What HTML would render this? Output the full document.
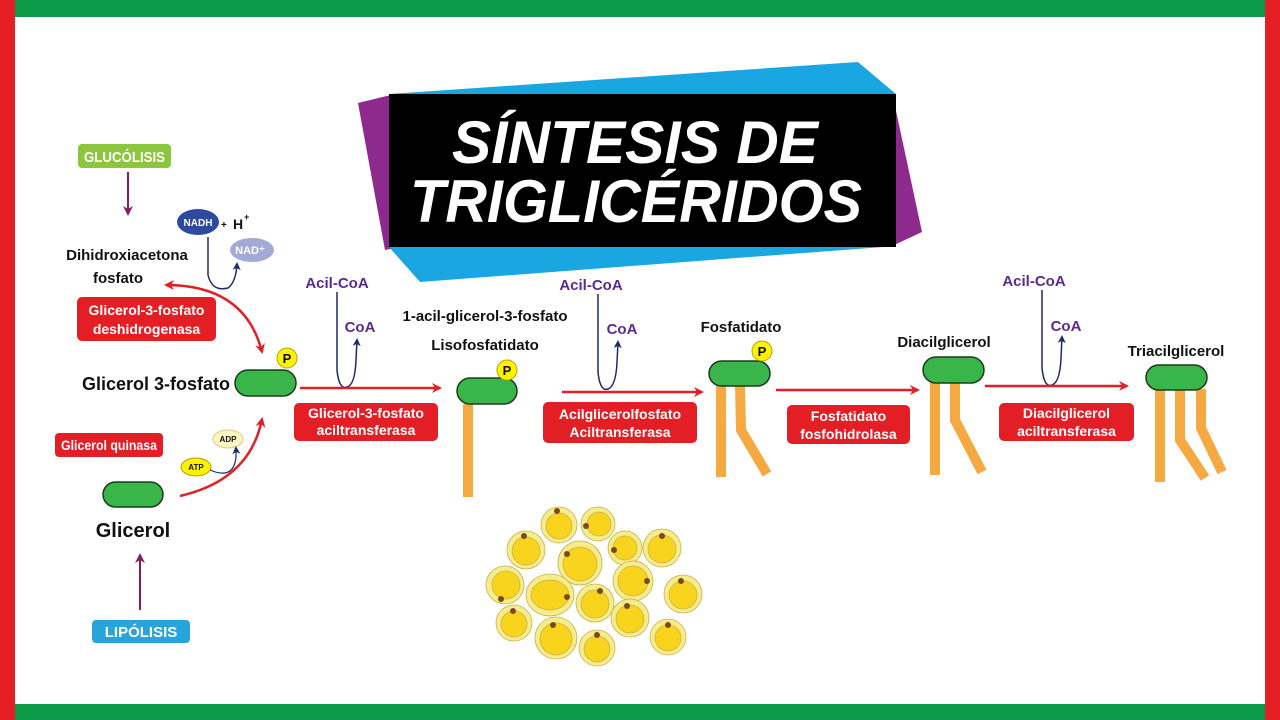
<!DOCTYPE html>
<html><head><meta charset="utf-8"><style>
html,body{margin:0;padding:0;background:#fff}
svg{display:block}
text{font-family:"Liberation Sans",sans-serif}
</style></head><body>
<svg width="1280" height="720" viewBox="0 0 1280 720" xmlns="http://www.w3.org/2000/svg">
<defs>
<marker id="ar" markerWidth="10" markerHeight="10" refX="8" refY="5" orient="auto-start-reverse" markerUnits="userSpaceOnUse"><path d="M0,0 L10,5 L0,10 L3,5 Z" fill="#e31e24"/></marker>
<marker id="ap" markerWidth="10" markerHeight="10" refX="8" refY="5" orient="auto" markerUnits="userSpaceOnUse"><path d="M0,0 L10,5 L0,10 L3,5 Z" fill="#8b1a5c"/></marker>
<marker id="ab" markerWidth="8" markerHeight="8" refX="6" refY="4" orient="auto" markerUnits="userSpaceOnUse"><path d="M0,0 L8,4 L0,8 L2,4 Z" fill="#1f2a6b"/></marker>
</defs>
<rect width="1280" height="720" fill="#fff"/>
<rect x="0" y="0" width="1280" height="17" fill="#0a9a48"/>
<rect x="0" y="704" width="1280" height="16" fill="#0a9a48"/>
<rect x="0" y="0" width="15" height="720" fill="#e31e24"/>
<rect x="1265" y="0" width="15" height="720" fill="#e31e24"/>

<!-- title -->
<polygon points="358,103 395,94 395,248 385,250" fill="#8e2a8e"/>
<polygon points="892,92 922,232 892,246" fill="#8e2a8e"/>
<polygon points="389,94 858,62 896,94 896,246 420,282 389,247" fill="#1aa7e1"/>
<rect x="389" y="94" width="507" height="153" fill="#000"/>
<text x="452" y="163" textLength="366" lengthAdjust="spacingAndGlyphs" fill="#fff" font-size="60" font-weight="bold" font-style="italic">SÍNTESIS DE</text>
<text x="410" y="222" textLength="452" lengthAdjust="spacingAndGlyphs" fill="#fff" font-size="60" font-weight="bold" font-style="italic">TRIGLICÉRIDOS</text>

<!-- left side -->
<rect x="78" y="144" width="93" height="24" rx="4" fill="#8cc63f"/>
<text x="84" y="162" textLength="81" lengthAdjust="spacingAndGlyphs" fill="#fff" font-size="15" font-weight="bold">GLUCÓLISIS</text>
<line x1="128" y1="172" x2="128" y2="214" stroke="#8b1a5c" stroke-width="2" marker-end="url(#ap)"/>
<text x="127" y="260" text-anchor="middle" font-size="15" font-weight="bold" fill="#111">Dihidroxiacetona</text>
<text x="118" y="283" text-anchor="middle" font-size="15" font-weight="bold" fill="#111">fosfato</text>

<ellipse cx="198" cy="222" rx="21" ry="13" fill="#2e4a9e"/>
<text x="198" y="226" text-anchor="middle" fill="#fff" font-size="10" font-weight="bold">NADH</text>
<text x="221" y="228" font-size="10" font-weight="bold" fill="#111">+</text>
<text x="233" y="229" font-size="14" font-weight="bold" fill="#111">H</text>
<text x="244" y="220" font-size="9" font-weight="bold" fill="#111">+</text>
<ellipse cx="252" cy="250" rx="22" ry="12" fill="#a3aad8"/>
<text x="250" y="254" text-anchor="middle" fill="#fff" font-size="11" font-weight="bold">NAD⁺</text>
<path d="M208,237 L208,275 Q212,292 228,288 Q236,282 237,264" fill="none" stroke="#1f2a6b" stroke-width="1.5" marker-end="url(#ab)"/>

<path d="M166,285 Q245,285 262,352" fill="none" stroke="#e31e24" stroke-width="2.5" marker-start="url(#ar)" marker-end="url(#ar)"/>
<rect x="77" y="297" width="139" height="44" rx="5" fill="#e31e24"/>
<text x="146.5" y="315" text-anchor="middle" fill="#fff" font-size="14" font-weight="bold">Glicerol-3-fosfato</text>
<text x="146.5" y="334" text-anchor="middle" fill="#fff" font-size="14" font-weight="bold">deshidrogenasa</text>

<text x="230" y="390" text-anchor="end" font-size="18" font-weight="bold" fill="#111">Glicerol 3-fosfato</text>
<rect x="235" y="370" width="61" height="26" rx="13" fill="#39b54a" stroke="#1d3b1d" stroke-width="1.5"/>
<circle cx="287" cy="358" r="10" fill="#fff200" stroke="#b3a400"/>
<text x="287" y="363" text-anchor="middle" font-size="13" font-weight="bold" fill="#111">P</text>

<rect x="55" y="433" width="108" height="24" rx="4" fill="#e31e24"/>
<text x="61" y="450" textLength="96" lengthAdjust="spacingAndGlyphs" fill="#fff" font-size="14" font-weight="bold">Glicerol quinasa</text>
<ellipse cx="228" cy="439" rx="15" ry="9" fill="#fdf6c3" stroke="#d8cc80"/>
<text x="228" y="442" text-anchor="middle" font-size="8" font-weight="bold" fill="#111">ADP</text>
<ellipse cx="196" cy="467" rx="15" ry="9" fill="#fff200" stroke="#b3a400"/>
<text x="196" y="470" text-anchor="middle" font-size="8" font-weight="bold" fill="#111">ATP</text>
<path d="M210,470 Q238,482 236,448" fill="none" stroke="#1f2a6b" stroke-width="1.2" marker-end="url(#ab)"/>
<path d="M180,496 Q250,480 262,419" fill="none" stroke="#e31e24" stroke-width="2.5" marker-end="url(#ar)"/>
<rect x="103" y="482" width="60" height="25" rx="12.5" fill="#39b54a" stroke="#1d3b1d" stroke-width="1.5"/>
<text x="133" y="537" text-anchor="middle" font-size="20" font-weight="bold" fill="#111">Glicerol</text>
<line x1="140" y1="610" x2="140" y2="555" stroke="#8b1a5c" stroke-width="2" marker-end="url(#ap)"/>
<rect x="92" y="620" width="98" height="23" rx="4" fill="#29a3dc"/>
<text x="141" y="637" text-anchor="middle" fill="#fff" font-size="15" font-weight="bold">LIPÓLISIS</text>

<!-- step 1 -->
<text x="337" y="288" text-anchor="middle" font-size="15" font-weight="bold" fill="#5b2a91">Acil-CoA</text>
<text x="360" y="332" text-anchor="middle" font-size="15" font-weight="bold" fill="#5b2a91">CoA</text>
<path d="M337,292 L337,370 Q339,390 347,387 Q355,385 356,360 L357,340" fill="none" stroke="#1f2a6b" stroke-width="1.5" marker-end="url(#ab)"/>
<line x1="300" y1="388" x2="440" y2="388" stroke="#e31e24" stroke-width="2.5" marker-end="url(#ar)"/>
<rect x="294" y="403" width="144" height="38" rx="5" fill="#e31e24"/>
<text x="366" y="418" text-anchor="middle" fill="#fff" font-size="14" font-weight="bold">Glicerol-3-fosfato</text>
<text x="366" y="435" text-anchor="middle" fill="#fff" font-size="14" font-weight="bold">aciltransferasa</text>

<text x="485" y="321" text-anchor="middle" font-size="15" font-weight="bold" fill="#111">1-acil-glicerol-3-fosfato</text>
<text x="485" y="350" text-anchor="middle" font-size="15" font-weight="bold" fill="#111">Lisofosfatidato</text>
<rect x="463" y="404" width="10" height="93" fill="#f7a941"/>
<rect x="457" y="378" width="60" height="26" rx="13" fill="#39b54a" stroke="#1d3b1d" stroke-width="1.5"/>
<circle cx="507" cy="370" r="10" fill="#fff200" stroke="#b3a400"/>
<text x="507" y="375" text-anchor="middle" font-size="13" font-weight="bold" fill="#111">P</text>

<!-- step 2 -->
<text x="591" y="290" text-anchor="middle" font-size="15" font-weight="bold" fill="#5b2a91">Acil-CoA</text>
<text x="622" y="334" text-anchor="middle" font-size="15" font-weight="bold" fill="#5b2a91">CoA</text>
<path d="M598,294 L598,372 Q600,392 608,389 Q616,386 617,362 L618,342" fill="none" stroke="#1f2a6b" stroke-width="1.5" marker-end="url(#ab)"/>
<line x1="562" y1="392" x2="702" y2="392" stroke="#e31e24" stroke-width="2.5" marker-end="url(#ar)"/>
<rect x="543" y="402" width="154" height="41" rx="5" fill="#e31e24"/>
<text x="620" y="419" text-anchor="middle" fill="#fff" font-size="14" font-weight="bold">Acilglicerolfosfato</text>
<text x="620" y="437" text-anchor="middle" fill="#fff" font-size="14" font-weight="bold">Aciltransferasa</text>

<text x="741" y="332" text-anchor="middle" font-size="15" font-weight="bold" fill="#111">Fosfatidato</text>
<rect x="716" y="385" width="10" height="92" fill="#f7a941"/>
<polyline points="740,384 741,430 767,474" fill="none" stroke="#f7a941" stroke-width="10"/>
<rect x="709" y="361" width="61" height="25" rx="12.5" fill="#39b54a" stroke="#1d3b1d" stroke-width="1.5"/>
<circle cx="762" cy="351" r="10" fill="#fff200" stroke="#b3a400"/>
<text x="762" y="356" text-anchor="middle" font-size="13" font-weight="bold" fill="#111">P</text>

<!-- step 3 -->
<line x1="776" y1="390" x2="918" y2="390" stroke="#e31e24" stroke-width="2.5" marker-end="url(#ar)"/>
<rect x="787" y="405" width="123" height="39" rx="5" fill="#e31e24"/>
<text x="848.5" y="421" text-anchor="middle" fill="#fff" font-size="14" font-weight="bold">Fosfatidato</text>
<text x="848.5" y="439" text-anchor="middle" fill="#fff" font-size="14" font-weight="bold">fosfohidrolasa</text>

<text x="944" y="347" text-anchor="middle" font-size="15" font-weight="bold" fill="#111">Diacilglicerol</text>
<rect x="930" y="382" width="10" height="93" fill="#f7a941"/>
<polyline points="955,382 955,420 982,472" fill="none" stroke="#f7a941" stroke-width="10"/>
<rect x="923" y="357" width="61" height="26" rx="13" fill="#39b54a" stroke="#1d3b1d" stroke-width="1.5"/>

<!-- step 4 -->
<text x="1034" y="286" text-anchor="middle" font-size="15" font-weight="bold" fill="#5b2a91">Acil-CoA</text>
<text x="1066" y="331" text-anchor="middle" font-size="15" font-weight="bold" fill="#5b2a91">CoA</text>
<path d="M1042,290 L1042,368 Q1044,388 1052,385 Q1060,382 1061,358 L1062,337" fill="none" stroke="#1f2a6b" stroke-width="1.5" marker-end="url(#ab)"/>
<line x1="985" y1="386" x2="1127" y2="386" stroke="#e31e24" stroke-width="2.5" marker-end="url(#ar)"/>
<rect x="999" y="403" width="135" height="38" rx="5" fill="#e31e24"/>
<text x="1066.5" y="418" text-anchor="middle" fill="#fff" font-size="14" font-weight="bold">Diacilglicerol</text>
<text x="1066.5" y="436" text-anchor="middle" fill="#fff" font-size="14" font-weight="bold">aciltransferasa</text>

<text x="1176" y="356" text-anchor="middle" font-size="15" font-weight="bold" fill="#111">Triacilglicerol</text>
<rect x="1155" y="389" width="10" height="93" fill="#f7a941"/>
<polyline points="1180,389 1180,440 1205,478" fill="none" stroke="#f7a941" stroke-width="10"/>
<polyline points="1201,389 1201,428 1222,472" fill="none" stroke="#f7a941" stroke-width="10"/>
<rect x="1146" y="365" width="61" height="25" rx="12.5" fill="#39b54a" stroke="#1d3b1d" stroke-width="1.5"/>

<!-- fat cells -->
<g stroke="#c8b050" stroke-width="0.8">
<g fill="#f7ec8a">
<circle cx="559" cy="525" r="18"/><circle cx="598" cy="524" r="17"/><circle cx="526" cy="550" r="19"/>
<circle cx="580" cy="563" r="22"/><circle cx="625" cy="548" r="17"/><circle cx="662" cy="548" r="19"/>
<circle cx="505" cy="585" r="19"/><ellipse cx="550" cy="595" rx="24" ry="21"/><circle cx="633" cy="581" r="20"/>
<circle cx="683" cy="594" r="19"/><circle cx="595" cy="603" r="19"/><circle cx="514" cy="623" r="18"/>
<circle cx="556" cy="638" r="21"/><circle cx="630" cy="618" r="19"/><circle cx="597" cy="648" r="18"/>
<circle cx="668" cy="637" r="18"/>
</g>
<g fill="#f9d41d">
<circle cx="559" cy="526" r="13"/><circle cx="599" cy="524" r="12"/><circle cx="526" cy="551" r="14"/>
<circle cx="580" cy="564" r="17"/><circle cx="625" cy="548" r="12"/><circle cx="662" cy="549" r="14"/>
<circle cx="506" cy="585" r="14"/><ellipse cx="550" cy="595" rx="19" ry="15"/><circle cx="633" cy="581" r="15"/>
<circle cx="683" cy="595" r="14"/><circle cx="595" cy="604" r="14"/><circle cx="514" cy="624" r="13"/>
<circle cx="556" cy="639" r="16"/><circle cx="630" cy="619" r="14"/><circle cx="597" cy="649" r="13"/>
<circle cx="668" cy="638" r="13"/>
</g>
</g>
<g fill="#7a4a1f">
<circle cx="557" cy="511" r="3"/><circle cx="586" cy="526" r="3"/><circle cx="524" cy="536" r="3"/>
<circle cx="567" cy="554" r="3"/><circle cx="614" cy="550" r="3"/><circle cx="662" cy="536" r="3"/>
<circle cx="501" cy="599" r="3"/><circle cx="567" cy="597" r="3"/><circle cx="647" cy="581" r="3"/>
<circle cx="681" cy="581" r="3"/><circle cx="600" cy="591" r="3"/><circle cx="513" cy="611" r="3"/>
<circle cx="553" cy="625" r="3"/><circle cx="627" cy="606" r="3"/><circle cx="597" cy="635" r="3"/>
<circle cx="668" cy="625" r="3"/>
</g>
</svg>
</body></html>
